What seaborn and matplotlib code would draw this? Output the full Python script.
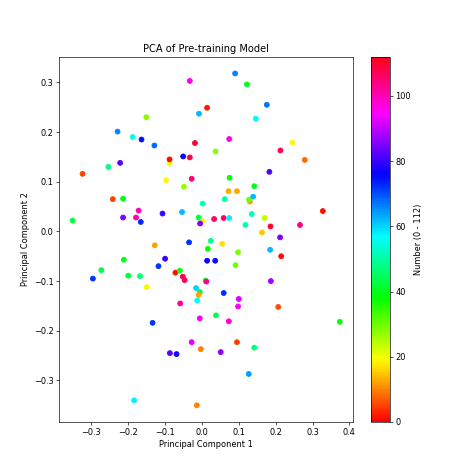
import numpy as np
import pandas as pd
import matplotlib
matplotlib.use("Agg")
import matplotlib.pyplot as plt
import seaborn as sns

# PCA coordinates, with the sample number used for colour
pc1 = [-0.033, 0.014, -0.008, -0.151, -0.229, -0.188, -0.164, -0.129, -0.019, -0.051,
       -0.033, -0.088, -0.088, -0.222, -0.254, -0.324, -0.097, -0.028, -0.049, 0.090,
       0.122, 0.176, 0.146, 0.074, 0.246, 0.213, 0.037, 0.279, 0.183, 0.075,
       0.142, -0.242, -0.214, -0.172, -0.179, -0.214, -0.166, -0.351, -0.107, -0.054,
       0.002, -0.009, 0.001, -0.005, -0.035, 0.024, 0.016, -0.128, -0.212, -0.100,
       -0.118, 0.014, -0.273, -0.296, -0.200, -0.168, -0.072, -0.060, -0.052, -0.047,
       -0.150, 0.010, 0.012, -0.016, -0.006, -0.009, -0.013, -0.059, 0.072, 0.095,
       0.062, 0.130, 0.128, 0.139, 0.033, 0.059, 0.074, 0.135, 0.118, 0.170,
       0.186, 0.163, 0.266, 0.328, 0.212, 0.055, 0.098, 0.185, 0.215, 0.036,
       0.091, 0.187, 0.059, 0.100, 0.098, 0.207, 0.038, -0.006, 0.073, 0.374,
       0.095, 0.142, 0.051, -0.003, 0.127, -0.014, -0.134, -0.028, -0.087, -0.069,
       -0.184]
pc2 = [0.303, 0.249, 0.237, 0.230, 0.201, 0.190, 0.185, 0.173, 0.178, 0.151,
       0.149, 0.137, 0.145, 0.138, 0.130, 0.116, 0.103, 0.106, 0.090, 0.318,
       0.296, 0.255, 0.227, 0.186, 0.179, 0.163, 0.161, 0.144, 0.120, 0.108,
       0.091, 0.065, 0.066, 0.042, 0.028, 0.028, 0.019, 0.022, 0.036, 0.039,
       0.056, 0.028, 0.020, 0.016, -0.022, -0.019, -0.035, -0.028, -0.057, -0.055,
       -0.070, -0.059, -0.078, -0.095, -0.089, -0.090, -0.083, -0.079, -0.091, -0.098,
       -0.112, -0.099, -0.101, -0.114, -0.122, -0.128, -0.139, -0.145, 0.081, 0.081,
       0.065, 0.060, 0.064, 0.070, 0.025, 0.027, 0.027, 0.035, 0.013, 0.027,
       0.010, -0.002, 0.013, 0.041, -0.012, -0.025, -0.042, -0.037, -0.050, -0.059,
       -0.068, -0.100, -0.124, -0.136, -0.151, -0.152, -0.169, -0.175, -0.181, -0.182,
       -0.223, -0.234, -0.243, -0.237, -0.287, -0.350, -0.184, -0.223, -0.245, -0.247,
       -0.340]
number = [96, 2, 62, 28, 66, 55, 75, 68, 109, 77,
          108, 20, 1, 83, 48, 5, 19, 105, 27, 66,
          40, 67, 57, 96, 19, 108, 28, 8, 82, 38,
          40, 5, 40, 100, 101, 85, 73, 42, 80, 62,
          52, 42, 18, 85, 72, 48, 37, 12, 40, 80,
          72, 76, 43, 72, 42, 47, 1, 40, 108, 107,
          19, 40, 103, 60, 42, 12, 56, 102, 13, 13,
          52, 12, 30, 62, 106, 106, 58, 52, 52, 24,
          110, 15, 104, 1, 85, 17, 29, 62, 1, 75,
          30, 88, 73, 92, 95, 6, 45, 96, 98, 38,
          5, 47, 86, 10, 64, 10, 72, 93, 82, 77,
          58]

df = pd.DataFrame({"pc1": pc1, "pc2": pc2, "number": number})

fig, ax = plt.subplots(figsize=(8, 8), dpi=59.25)
sns.scatterplot(data=df, x="pc1", y="pc2", hue="number", palette="hsv",
                hue_norm=(0, 112), s=36, linewidth=1, edgecolor="face",
                legend=False, ax=ax)

sm = plt.cm.ScalarMappable(cmap="hsv", norm=plt.Normalize(0, 112))
sm.set_array([])
fig.colorbar(sm, ax=ax, label="Number (0 - 112)")

ax.set_title("PCA of Pre-training Model")
ax.set_xlabel("Principal Component 1")
ax.set_ylabel("Principal Component 2")

fig.savefig("out.png", dpi=59.25)
